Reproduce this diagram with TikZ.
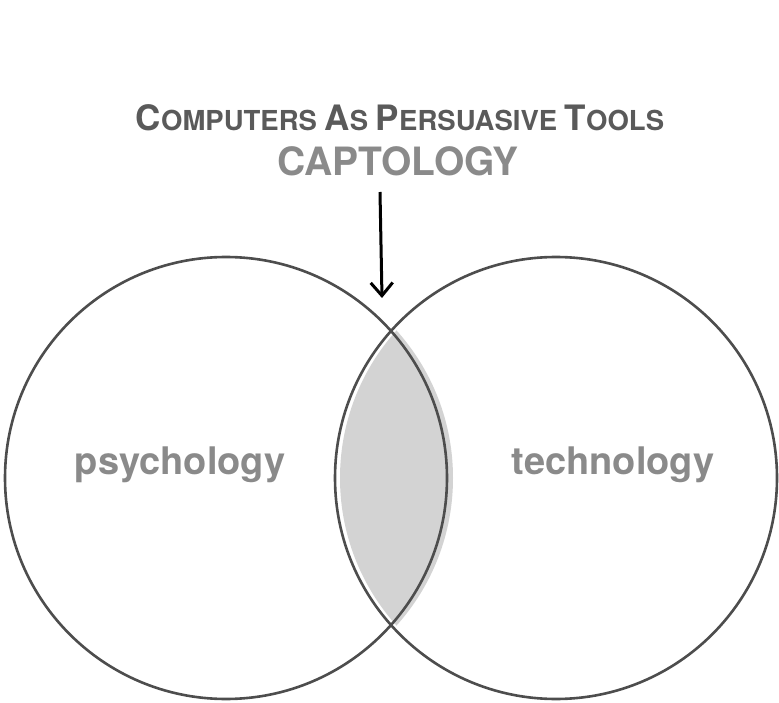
\documentclass[tikz,border=0pt]{standalone}
\usepackage{fontspec}
\setmainfont{TeX Gyre Heros}
\usetikzlibrary{arrows.meta}
\definecolor{ringgray}{HTML}{4D4D4D}
\definecolor{titlegray}{HTML}{5A5A5A}
\definecolor{wordgray}{HTML}{8A8A8A}
\definecolor{lensgray}{HTML}{D3D3D3}
\newcommand{\bigsc}[1]{{\fontsize{35}{35}\selectfont #1}}
\begin{document}
\begin{tikzpicture}[x=1pt, y=-1pt,
    ring/.style = {color = ringgray, line width = 2.6pt},
    word/.style = {color = wordgray, font = \fontsize{38}{38}\selectfont\bfseries, anchor = base},
    pointer/.style = {color = black, line width = 3pt, -{Straight Barb[length=13pt, width=22pt, line width=3pt]}}]
        \useasboundingbox (0,0) rectangle (779,703);
        \begin{scope}
        \clip (232,478) circle (221);
        \fill[lensgray] (561,478) circle (221);
        \end{scope}
        \draw[ring] (226,478) circle (221);
        \draw[ring] (556,478) circle (221);
        \node[color = titlegray, font = \fontsize{27.5}{28}\selectfont\bfseries, anchor = base] (title) at (400,131)
            {\bigsc{C}OMPUTERS \bigsc{A}S \bigsc{P}ERSUASIVE \bigsc{T}OOLS};
        \node[word, font = \fontsize{39}{39}\selectfont\bfseries] (capt) at (398,176) {CAPTOLOGY};
        \node[word] (psy) at (180,474) {psychology};
        \node[word] (tech) at (613,474) {technology};
        \coordinate (arrowtop) at (380,192);
        \coordinate (arrowtip) at (382,298);
        \draw[pointer] (arrowtop) -- (arrowtip);
        \end{tikzpicture}
\end{document}
